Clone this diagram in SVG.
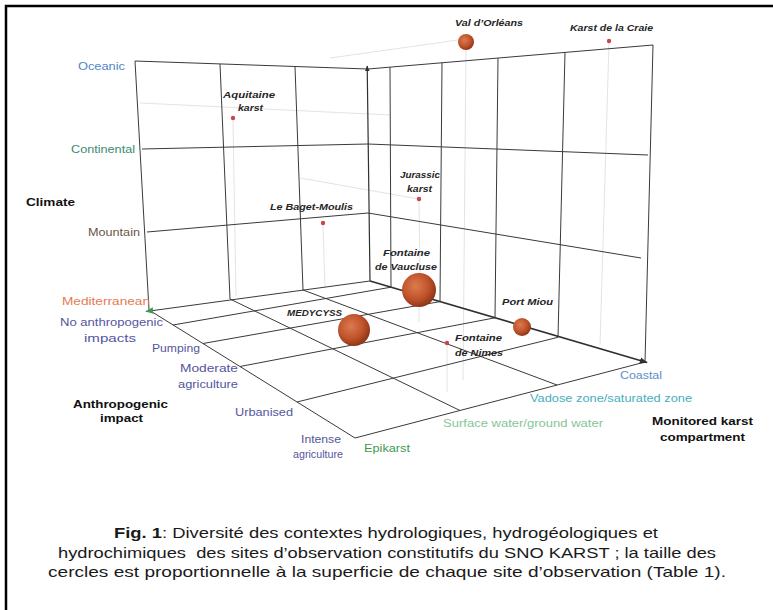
<svg xmlns="http://www.w3.org/2000/svg" width="773" height="610" viewBox="0 0 773 610">
<style>
.g{fill:none;stroke:#3a3a3a;stroke-width:1}
.f{fill:none;stroke:#e0e0e0;stroke-width:0.9}
.ax{fill:none;stroke:#303030;stroke-width:1.7}
.vax{fill:none;stroke:#303030;stroke-width:1.2}
.t{font-family:"Liberation Sans",Arial,sans-serif}
.site{font-size:9.5px;font-weight:bold;font-style:italic;fill:#262626}
.cat{font-size:10.5px}
.ttl{font-size:11.5px;font-weight:bold;fill:#111}
.anth{fill:#55559e}
.cap{font-size:15px;fill:#1a1a1a}
.dot{fill:#c44a4a}
.ball{fill:url(#ball)}
</style>
<defs>
<radialGradient id="ball" cx="0.4" cy="0.38" r="0.65">
<stop offset="0" stop-color="#dc7b50"/>
<stop offset="0.6" stop-color="#c0532a"/>
<stop offset="1" stop-color="#8a3416"/>
</radialGradient>
<marker id="arrDark" viewBox="0 0 10 10" refX="9" refY="5" markerWidth="8" markerHeight="8" markerUnits="userSpaceOnUse" orient="auto">
<path d="M0,1 L10,5 L0,9 Z" fill="#303030"/>
</marker>
<marker id="arrGreen" viewBox="0 0 10 10" refX="9" refY="5" markerWidth="8" markerHeight="8" markerUnits="userSpaceOnUse" orient="auto">
<path d="M0,1 L10,5 L0,9 Z" fill="#3e9a52"/>
</marker>
<marker id="arrUp" viewBox="0 0 10 10" refX="9" refY="5" markerWidth="6" markerHeight="6" markerUnits="userSpaceOnUse" orient="auto">
<path d="M0,1 L10,5 L0,9 Z" fill="#303030"/>
</marker>
</defs>

<!-- frame -->
<path d="M6,610 V6 H773" fill="none" stroke="#000" stroke-width="2.5"/>

<g id="connectors">
<g id="guides">
<path class="f" d="M140,103 L390,115"/>
<path class="f" d="M300,178 L419,199"/>
<path class="f" d="M330,58 L458,40"/>
<path class="f" d="M233,120 L236,296"/>
<path class="f" d="M323,225 L325,288"/>
<path class="f" d="M419,201 L420,276"/>
<path class="f" d="M466,50 L463,380"/>
<path class="f" d="M609,43 L600,345"/>
<path class="f" d="M419,307 L419,322"/>
<path class="f" d="M447,345 L447,392"/>
</g>
<g id="left-wall">
<path class="g" d="M135,61 L368,69"/>
<path class="g" d="M142,149 L368,144"/>
<path class="g" d="M147,232 L368,213"/>
<path class="g" d="M135,61 L149,310"/>
<path class="g" d="M220,64 L230,299"/>
<path class="g" d="M295,66.5 L303,290"/>
</g>
<g id="right-wall">
<path class="g" d="M368,69 L653,45"/>
<path class="g" d="M368,144 L648,155"/>
<path class="g" d="M368,213 L641,258"/>
<path class="g" d="M390,67.1 L391,287.2"/>
<path class="g" d="M442,62.8 L440,301.6"/>
<path class="g" d="M498,58.1 L495,317.8"/>
<path class="g" d="M565,52.4 L558,337.3"/>
<path class="g" d="M653,45 L645,362"/>
</g>
<g id="floor">
<path class="g" d="M149,310 L355,438"/>
<path class="g" d="M355,438 L645,362"/>
<path class="g" d="M173,325 L391,287.2"/>
<path class="g" d="M203,343.5 L440,301.6"/>
<path class="g" d="M240,366.5 L495,317.8"/>
<path class="g" d="M297,402 L558,337.3"/>
<path class="g" d="M230,299 L460,410.5"/>
<path class="g" d="M303,290 L557,385"/>
</g>
<g id="axes">
<path class="vax" d="M370,281 L367.2,66" marker-end="url(#arrUp)"/>
<path class="g" d="M370,281 L146,311.5" marker-end="url(#arrGreen)"/>
<path class="ax" d="M370,281 L647,362.5" marker-end="url(#arrDark)"/>
</g>
</g>

<g id="site-val-orleans">
<circle class="ball" cx="466" cy="42" r="8"/>
<text class="t site" x="455" y="26" textLength="68" lengthAdjust="spacingAndGlyphs">Val d’Orléans</text>
</g>
<g id="site-karst-craie">
<circle class="dot" cx="609" cy="41" r="2.2"/>
<text class="t site" x="570" y="31" textLength="83" lengthAdjust="spacingAndGlyphs">Karst de la Craie</text>
</g>
<g id="site-aquitaine">
<circle class="dot" cx="233" cy="118" r="2.2"/>
<text class="t site" x="223" y="98" textLength="52" lengthAdjust="spacingAndGlyphs">Aquitaine</text>
<text class="t site" x="238" y="111" textLength="25" lengthAdjust="spacingAndGlyphs">karst</text>
</g>
<g id="site-baget">
<circle class="dot" cx="323" cy="223" r="2.2"/>
<text class="t site" x="270" y="210" textLength="83" lengthAdjust="spacingAndGlyphs">Le Baget-Moulis</text>
</g>
<g id="site-jurassic">
<circle class="dot" cx="419" cy="199" r="2.2"/>
<text class="t site" x="400" y="178" textLength="40" lengthAdjust="spacingAndGlyphs">Jurassic</text>
<text class="t site" x="407" y="192" textLength="25" lengthAdjust="spacingAndGlyphs">karst</text>
</g>
<g id="site-vaucluse">
<circle class="ball" cx="419" cy="290" r="17"/>
<text class="t site" x="383" y="256" textLength="47" lengthAdjust="spacingAndGlyphs">Fontaine</text>
<text class="t site" x="375" y="270" textLength="62" lengthAdjust="spacingAndGlyphs">de Vaucluse</text>
</g>
<g id="site-medycyss">
<circle class="ball" cx="354" cy="330" r="16"/>
<text class="t site" x="287" y="316" textLength="55" lengthAdjust="spacingAndGlyphs">MEDYCYSS</text>
</g>
<g id="site-port-miou">
<circle class="ball" cx="522" cy="327" r="9"/>
<text class="t site" x="502" y="305" textLength="51" lengthAdjust="spacingAndGlyphs">Port Miou</text>
</g>
<g id="site-nimes">
<circle class="dot" cx="447" cy="343" r="2.2"/>
<text class="t site" x="455" y="341" textLength="47" lengthAdjust="spacingAndGlyphs">Fontaine</text>
<text class="t site" x="455" y="356" textLength="48" lengthAdjust="spacingAndGlyphs">de Nimes</text>
</g>

<g id="climate-axis">
<text class="t ttl" x="26" y="206" textLength="49" lengthAdjust="spacingAndGlyphs">Climate</text>
<text class="t cat" x="78" y="70" fill="#4f86c6" textLength="47" lengthAdjust="spacingAndGlyphs">Oceanic</text>
<text class="t cat" x="71" y="153" fill="#3a8c70" textLength="64" lengthAdjust="spacingAndGlyphs">Continental</text>
<text class="t cat" x="88" y="236" fill="#6b5547" textLength="52" lengthAdjust="spacingAndGlyphs">Mountain</text>
<text class="t cat" x="62" y="305" fill="#e57b50" textLength="88" lengthAdjust="spacingAndGlyphs">Mediterranean</text>
</g>

<g id="anthropogenic-axis">
<text class="t ttl" x="73" y="408" textLength="95" lengthAdjust="spacingAndGlyphs">Anthropogenic</text>
<text class="t ttl" x="100" y="422" textLength="43" lengthAdjust="spacingAndGlyphs">impact</text>
<text class="t cat anth" x="60" y="326" textLength="103" lengthAdjust="spacingAndGlyphs">No anthropogenic</text>
<text class="t cat anth" x="84" y="342" textLength="52" lengthAdjust="spacingAndGlyphs">impacts</text>
<text class="t cat anth" x="152" y="352" textLength="48" lengthAdjust="spacingAndGlyphs">Pumping</text>
<text class="t cat anth" x="180" y="372" textLength="58" lengthAdjust="spacingAndGlyphs">Moderate</text>
<text class="t cat anth" x="178" y="388" textLength="60" lengthAdjust="spacingAndGlyphs">agriculture</text>
<text class="t cat anth" x="235" y="416" textLength="58" lengthAdjust="spacingAndGlyphs">Urbanised</text>
<text class="t cat anth" x="301" y="443" textLength="40" lengthAdjust="spacingAndGlyphs">Intense</text>
<text class="t cat anth" x="293" y="458" textLength="50" lengthAdjust="spacingAndGlyphs">agriculture</text>
</g>

<g id="karst-axis">
<text class="t cat" x="364" y="452" fill="#3e9a52" textLength="46" lengthAdjust="spacingAndGlyphs">Epikarst</text>
<text class="t cat" x="443" y="427" fill="#86c595" textLength="160" lengthAdjust="spacingAndGlyphs">Surface water/ground water</text>
<text class="t cat" x="530" y="402" fill="#47aebc" textLength="162" lengthAdjust="spacingAndGlyphs">Vadose zone/saturated zone</text>
<text class="t cat" x="620" y="379" fill="#5b8fc8" textLength="42" lengthAdjust="spacingAndGlyphs">Coastal</text>
<text class="t ttl" x="652" y="425" textLength="101" lengthAdjust="spacingAndGlyphs">Monitored karst</text>
<text class="t ttl" x="660" y="441" textLength="85" lengthAdjust="spacingAndGlyphs">compartment</text>
</g>

<g id="caption">
<text class="t cap" x="114" y="538" textLength="544" lengthAdjust="spacingAndGlyphs"><tspan font-weight="bold">Fig. 1</tspan>: Diversité des contextes hydrologiques, hydrogéologiques et</text>
<text class="t cap" x="58" y="558" textLength="658" lengthAdjust="spacingAndGlyphs" style="white-space:pre">hydrochimiques  des sites d’observation constitutifs du SNO KARST ; la taille des</text>
<text class="t cap" x="48" y="577" textLength="678" lengthAdjust="spacingAndGlyphs">cercles est proportionnelle à la superficie de chaque site d’observation (Table 1).</text>
</g>
</svg>
